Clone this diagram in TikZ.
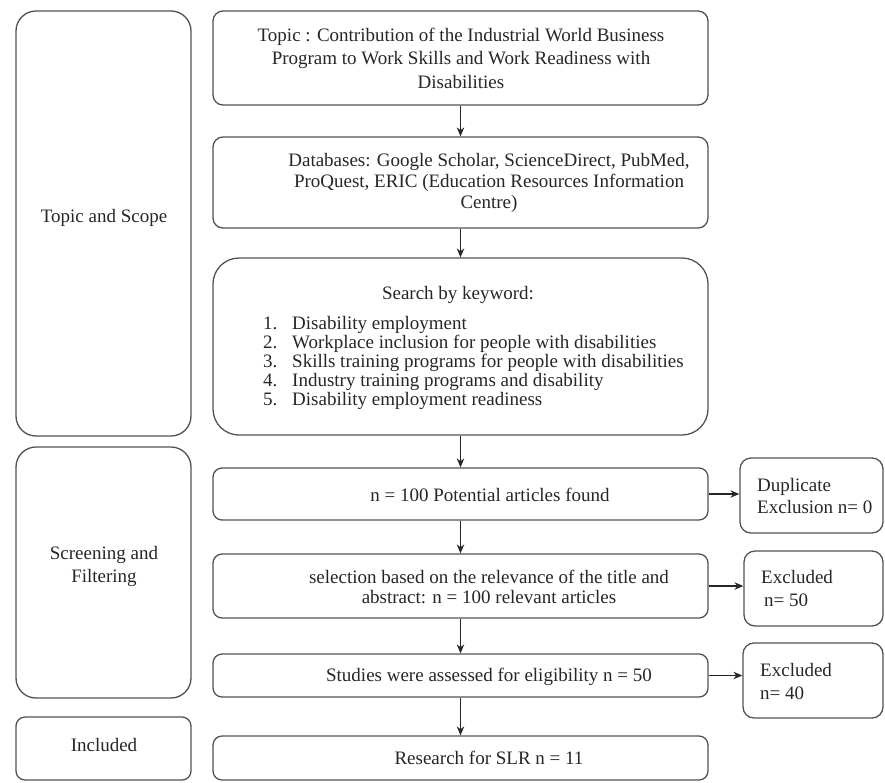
\documentclass[tikz,border=0pt]{standalone}
\usepackage{fontspec}
\setmainfont{Liberation Serif}
\usetikzlibrary{arrows.meta}
\begin{document}
\begin{tikzpicture}[x=1pt,y=-1pt,
  box/.style={draw=black!68, line width=1.3pt, rounded corners=#1, inner sep=0pt},
  box/.default=9pt,
  txt/.style={font=\fontsize{19}{23.5}\selectfont, text=black!85, align=center, inner sep=0pt},
  arr/.style={-{Stealth[length=9pt,width=7.5pt]}, line width=1.2pt, draw=black!85}]
\useasboundingbox (0,0) rectangle (885,782);
% left stage boxes
\node[box=20pt, minimum width=175pt, minimum height=425pt] (ts) at (103.5,223.5) {};
\node[box=20pt, minimum width=175pt, minimum height=251pt] (sf) at (103.5,572.5) {};
\node[box=9pt, minimum width=175pt, minimum height=63pt] (inc) at (103.5,748.5) {};
\node[txt] (tsl) at (104,218) {Topic and Scope};
\node[txt, font=\fontsize{19}{23}\selectfont] (sfl) at (104,566) {Screening and\\Filtering};
\node[txt] (incl) at (104,745) {Included};
% main boxes
\node[box=10pt, minimum width=495pt, minimum height=94pt] (topic) at (460.5,58) {};
\node[box=10pt, minimum width=495pt, minimum height=91pt] (db) at (460.5,182.5) {};
\node[box=26pt, minimum width=495pt, minimum height=177pt] (search) at (460.5,346.5) {};
\node[box=9pt, minimum width=495pt, minimum height=52pt] (n100) at (460.5,494) {};
\node[box=9pt, minimum width=495pt, minimum height=64pt] (sel) at (460.5,586) {};
\node[box=9pt, minimum width=495pt, minimum height=43pt] (stud) at (460.5,675.5) {};
\node[box=9pt, minimum width=495pt, minimum height=44pt] (res) at (460.5,758) {};
% main texts
\node[txt] (topict) at (461,58) {Topic : Contribution of the Industrial World Business\\Program to Work Skills and Work Readiness with\\Disabilities};
\node[txt, font=\fontsize{19}{21}\selectfont] (dbt) at (489,183) {Databases: Google Scholar, ScienceDirect, PubMed,\\ProQuest, ERIC (Education Resources Information\\Centre)};
\node[txt] (searcht) at (458,295) {Search by keyword:};
\node[txt, align=left, anchor=west, font=\fontsize{19}{19}\selectfont] (list) at (263,363) {%
\makebox[29pt][l]{1.}Disability employment\\
\makebox[29pt][l]{2.}Workplace inclusion for people with disabilities\\
\makebox[29pt][l]{3.}Skills training programs for people with disabilities\\
\makebox[29pt][l]{4.}Industry training programs and disability\\
\makebox[29pt][l]{5.}Disability employment readiness};
\node[txt] (n100t) at (490,495) {n = 100 Potential articles found};
\node[txt, font=\fontsize{19}{20.5}\selectfont] (selt) at (489,587) {selection based on the relevance of the title and\\abstract: n = 100 relevant articles};
\node[txt] (studt) at (489,677) {Studies were assessed for eligibility n = 50};
\node[txt] (rest) at (489,758) {Research for SLR n = 11};
% side boxes
\node[box=11pt, minimum width=143pt, minimum height=75pt] (dup) at (811.5,495.5) {};
\node[box=11pt, minimum width=139pt, minimum height=75pt] (ex50) at (813.5,588.5) {};
\node[box=11pt, minimum width=140pt, minimum height=75pt] (ex40) at (813,680.5) {};
\node[txt, align=left, anchor=west, font=\fontsize{19}{22}\selectfont] (dupt) at (757,496) {Duplicate\\Exclusion n= 0};
\node[txt, align=left, anchor=west, font=\fontsize{19}{23}\selectfont] (ex50t) at (761,588.5) {Excluded\\\hspace*{3pt}n= 50};
\node[txt, align=left, anchor=west, font=\fontsize{19}{23}\selectfont] (ex40t) at (760,681) {Excluded\\n= 40};
% arrows
\draw[arr] (topic.south) -- (db.north);
\draw[arr] (db.south) -- (search.north);
\draw[arr] (search.south) -- (n100.north);
\draw[arr] (n100.south) -- (sel.north);
\draw[arr] (sel.south) -- (stud.north);
\draw[arr] (stud.south) -- (res.north);
\draw[arr] (n100.east) -- (n100.east -| dup.west);
\draw[arr] (sel.east) -- (sel.east -| ex50.west);
\draw[arr] (stud.east) -- (stud.east -| ex40.west);
\end{tikzpicture}
\end{document}
